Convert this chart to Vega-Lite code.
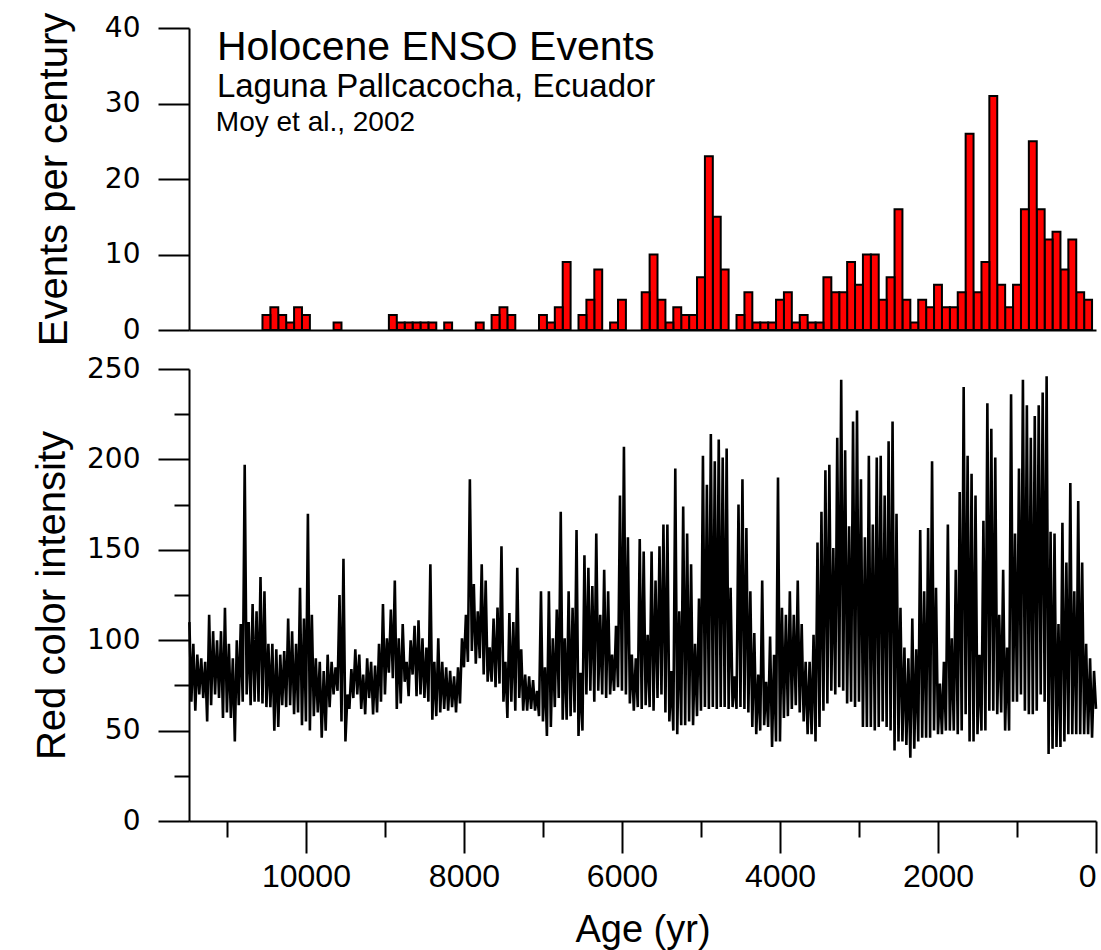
{
"$schema":"https://vega.github.io/schema/vega-lite/v6.json",
"background":"white",
"padding":{"left":32,"top":12,"right":5,"bottom":5},
"spacing":9,
"config":{"view":{"stroke":null},"axis":{"domainColor":"black","domainWidth":2,"tickColor":"black","tickWidth":2,"grid":false,"labelColor":"black","titleColor":"black","labelFont":"DejaVu Sans","titleFont":"Liberation Sans","titleFontWeight":"normal"}},
"datasets":{
"events":[
{"start":50,"end":150,"events":4},{"start":150,"end":250,"events":5},{"start":250,"end":350,"events":12},{"start":350,"end":450,"events":8},{"start":450,"end":550,"events":13},{"start":550,"end":650,"events":12},{"start":650,"end":750,"events":16},{"start":750,"end":850,"events":25},{"start":850,"end":950,"events":16},{"start":950,"end":1050,"events":6},{"start":1050,"end":1150,"events":3},{"start":1150,"end":1250,"events":6},{"start":1250,"end":1350,"events":31},{"start":1350,"end":1450,"events":9},{"start":1450,"end":1550,"events":5},{"start":1550,"end":1650,"events":26},{"start":1650,"end":1750,"events":5},{"start":1750,"end":1850,"events":3},{"start":1850,"end":1950,"events":3},{"start":1950,"end":2050,"events":6},{"start":2050,"end":2150,"events":3},{"start":2150,"end":2250,"events":4},{"start":2250,"end":2350,"events":1},{"start":2350,"end":2450,"events":4},{"start":2450,"end":2550,"events":16},{"start":2550,"end":2650,"events":7},{"start":2650,"end":2750,"events":4},{"start":2750,"end":2850,"events":10},{"start":2850,"end":2950,"events":10},{"start":2950,"end":3050,"events":6},{"start":3050,"end":3150,"events":9},{"start":3150,"end":3250,"events":5},{"start":3250,"end":3350,"events":5},{"start":3350,"end":3450,"events":7},{"start":3450,"end":3550,"events":1},{"start":3550,"end":3650,"events":1},{"start":3650,"end":3750,"events":2},{"start":3750,"end":3850,"events":1},{"start":3850,"end":3950,"events":5},{"start":3950,"end":4050,"events":4},{"start":4050,"end":4150,"events":1},{"start":4150,"end":4250,"events":1},{"start":4250,"end":4350,"events":1},{"start":4350,"end":4450,"events":5},{"start":4450,"end":4550,"events":2},{"start":4650,"end":4750,"events":8},{"start":4750,"end":4850,"events":15},{"start":4850,"end":4950,"events":23},{"start":4950,"end":5050,"events":7},{"start":5050,"end":5150,"events":2},{"start":5150,"end":5250,"events":2},{"start":5250,"end":5350,"events":3},{"start":5350,"end":5450,"events":1},{"start":5450,"end":5550,"events":4},{"start":5550,"end":5650,"events":10},{"start":5650,"end":5750,"events":5},{"start":5950,"end":6050,"events":4},{"start":6050,"end":6150,"events":1},{"start":6250,"end":6350,"events":8},{"start":6350,"end":6450,"events":4},{"start":6450,"end":6550,"events":2},{"start":6650,"end":6750,"events":9},{"start":6750,"end":6850,"events":3},{"start":6850,"end":6950,"events":1},{"start":6950,"end":7050,"events":2},{"start":7350,"end":7450,"events":2},{"start":7450,"end":7550,"events":3},{"start":7550,"end":7650,"events":2},{"start":7750,"end":7850,"events":1},{"start":8150,"end":8250,"events":1},{"start":8350,"end":8450,"events":1},{"start":8450,"end":8550,"events":1},{"start":8550,"end":8650,"events":1},{"start":8650,"end":8750,"events":1},{"start":8750,"end":8850,"events":1},{"start":8850,"end":8950,"events":2},{"start":9550,"end":9650,"events":1},{"start":9950,"end":10050,"events":2},{"start":10050,"end":10150,"events":3},{"start":10150,"end":10250,"events":1},{"start":10250,"end":10350,"events":2},{"start":10350,"end":10450,"events":3},{"start":10450,"end":10550,"events":2}
],
"intensity":[
{"age":11475,"red":110},{"age":11450,"red":66},{"age":11425,"red":98},{"age":11400,"red":61},{"age":11375,"red":92},
{"age":11350,"red":70},{"age":11325,"red":90},{"age":11300,"red":68},{"age":11275,"red":88},{"age":11250,"red":55},
{"age":11225,"red":114},{"age":11200,"red":64},{"age":11175,"red":105},{"age":11150,"red":70},{"age":11125,"red":100},
{"age":11100,"red":68},{"age":11075,"red":105},{"age":11050,"red":57},{"age":11025,"red":118},{"age":11000,"red":60},
{"age":10975,"red":98},{"age":10950,"red":57},{"age":10925,"red":90},{"age":10900,"red":44},{"age":10875,"red":100},
{"age":10850,"red":64},{"age":10825,"red":109},{"age":10800,"red":66},{"age":10775,"red":197},{"age":10750,"red":70},
{"age":10725,"red":110},{"age":10700,"red":64},{"age":10675,"red":120},{"age":10650,"red":66},{"age":10625,"red":116},
{"age":10600,"red":66},{"age":10575,"red":135},{"age":10550,"red":65},{"age":10525,"red":127},{"age":10500,"red":63},
{"age":10475,"red":98},{"age":10450,"red":63},{"age":10425,"red":98},{"age":10400,"red":50},{"age":10375,"red":95},
{"age":10350,"red":52},{"age":10325,"red":92},{"age":10300,"red":64},{"age":10275,"red":94},{"age":10250,"red":63},
{"age":10225,"red":112},{"age":10200,"red":64},{"age":10175,"red":105},{"age":10150,"red":59},{"age":10125,"red":98},
{"age":10100,"red":60},{"age":10075,"red":129},{"age":10050,"red":53},{"age":10025,"red":112},{"age":10000,"red":55},
{"age":9975,"red":170},{"age":9950,"red":50},{"age":9925,"red":114},{"age":9900,"red":58},{"age":9875,"red":90},
{"age":9850,"red":60},{"age":9825,"red":88},{"age":9800,"red":46},{"age":9775,"red":83},{"age":9750,"red":50},
{"age":9725,"red":92},{"age":9700,"red":63},{"age":9675,"red":88},{"age":9650,"red":70},{"age":9625,"red":85},
{"age":9600,"red":72},{"age":9575,"red":125},{"age":9550,"red":55},{"age":9525,"red":145},{"age":9500,"red":44},
{"age":9475,"red":70},{"age":9450,"red":62},{"age":9425,"red":84},{"age":9400,"red":68},{"age":9375,"red":95},
{"age":9350,"red":70},{"age":9325,"red":92},{"age":9300,"red":62},{"age":9275,"red":81},{"age":9250,"red":59},
{"age":9225,"red":90},{"age":9200,"red":68},{"age":9175,"red":88},{"age":9150,"red":59},{"age":9125,"red":86},
{"age":9100,"red":60},{"age":9075,"red":98},{"age":9050,"red":66},{"age":9025,"red":120},{"age":9000,"red":70},
{"age":8975,"red":101},{"age":8950,"red":82},{"age":8925,"red":117},{"age":8900,"red":79},{"age":8875,"red":133},
{"age":8850,"red":62},{"age":8825,"red":101},{"age":8800,"red":65},{"age":8775,"red":109},{"age":8750,"red":77},
{"age":8725,"red":88},{"age":8700,"red":69},{"age":8675,"red":100},{"age":8650,"red":81},{"age":8625,"red":108},
{"age":8600,"red":69},{"age":8575,"red":111},{"age":8550,"red":70},{"age":8525,"red":101},{"age":8500,"red":68},
{"age":8475,"red":96},{"age":8450,"red":66},{"age":8425,"red":142},{"age":8400,"red":56},{"age":8375,"red":88},
{"age":8350,"red":58},{"age":8325,"red":101},{"age":8300,"red":60},{"age":8275,"red":88},{"age":8250,"red":62},
{"age":8225,"red":85},{"age":8200,"red":61},{"age":8175,"red":83},{"age":8150,"red":63},{"age":8125,"red":80},
{"age":8100,"red":60},{"age":8075,"red":85},{"age":8050,"red":65},{"age":8025,"red":101},{"age":8000,"red":85},
{"age":7975,"red":114},{"age":7950,"red":88},{"age":7925,"red":189},{"age":7900,"red":94},{"age":7875,"red":131},
{"age":7850,"red":87},{"age":7825,"red":116},{"age":7800,"red":90},{"age":7775,"red":142},{"age":7750,"red":81},
{"age":7725,"red":133},{"age":7700,"red":77},{"age":7675,"red":96},{"age":7650,"red":77},{"age":7625,"red":112},
{"age":7600,"red":74},{"age":7575,"red":118},{"age":7550,"red":76},{"age":7525,"red":152},{"age":7500,"red":66},
{"age":7475,"red":88},{"age":7450,"red":57},{"age":7425,"red":115},{"age":7400,"red":66},{"age":7375,"red":110},
{"age":7350,"red":61},{"age":7325,"red":140},{"age":7300,"red":68},{"age":7275,"red":95},{"age":7250,"red":61},
{"age":7225,"red":81},{"age":7200,"red":61},{"age":7175,"red":80},{"age":7150,"red":62},{"age":7125,"red":78},
{"age":7100,"red":61},{"age":7075,"red":72},{"age":7050,"red":58},{"age":7025,"red":127},{"age":7000,"red":55},
{"age":6975,"red":85},{"age":6950,"red":47},{"age":6925,"red":127},{"age":6900,"red":52},{"age":6875,"red":101},
{"age":6850,"red":63},{"age":6825,"red":117},{"age":6800,"red":68},{"age":6775,"red":171},{"age":6750,"red":56},
{"age":6725,"red":101},{"age":6700,"red":56},{"age":6675,"red":127},{"age":6650,"red":58},{"age":6625,"red":118},
{"age":6600,"red":60},{"age":6575,"red":161},{"age":6550,"red":47},{"age":6525,"red":82},{"age":6500,"red":50},
{"age":6475,"red":147},{"age":6450,"red":70},{"age":6425,"red":140},{"age":6400,"red":72},{"age":6375,"red":130},
{"age":6350,"red":66},{"age":6325,"red":159},{"age":6300,"red":72},{"age":6275,"red":114},{"age":6250,"red":70},
{"age":6225,"red":139},{"age":6200,"red":68},{"age":6175,"red":127},{"age":6150,"red":70},{"age":6125,"red":92},
{"age":6100,"red":72},{"age":6075,"red":108},{"age":6050,"red":74},{"age":6025,"red":180},{"age":6000,"red":72},
{"age":5975,"red":207},{"age":5950,"red":70},{"age":5925,"red":157},{"age":5900,"red":65},{"age":5875,"red":92},
{"age":5850,"red":61},{"age":5825,"red":90},{"age":5800,"red":63},{"age":5775,"red":156},{"age":5750,"red":62},
{"age":5725,"red":149},{"age":5700,"red":64},{"age":5675,"red":103},{"age":5650,"red":63},{"age":5625,"red":149},
{"age":5600,"red":61},{"age":5575,"red":133},{"age":5550,"red":68},{"age":5525,"red":152},{"age":5500,"red":70},
{"age":5475,"red":164},{"age":5450,"red":60},{"age":5425,"red":164},{"age":5400,"red":55},{"age":5375,"red":83},
{"age":5350,"red":50},{"age":5325,"red":195},{"age":5300,"red":48},{"age":5275,"red":116},{"age":5250,"red":53},
{"age":5225,"red":174},{"age":5200,"red":53},{"age":5175,"red":159},{"age":5150,"red":55},{"age":5125,"red":142},
{"age":5100,"red":53},{"age":5075,"red":98},{"age":5050,"red":58},{"age":5025,"red":123},{"age":5000,"red":61},
{"age":4975,"red":202},{"age":4950,"red":63},{"age":4925,"red":186},{"age":4900,"red":62},{"age":4875,"red":214},
{"age":4850,"red":63},{"age":4825,"red":199},{"age":4800,"red":62},{"age":4775,"red":211},{"age":4750,"red":63},
{"age":4725,"red":201},{"age":4700,"red":63},{"age":4675,"red":206},{"age":4650,"red":62},{"age":4625,"red":129},
{"age":4600,"red":63},{"age":4575,"red":80},{"age":4550,"red":62},{"age":4525,"red":175},{"age":4500,"red":63},
{"age":4475,"red":189},{"age":4450,"red":62},{"age":4425,"red":162},{"age":4400,"red":60},{"age":4375,"red":127},
{"age":4350,"red":52},{"age":4325,"red":104},{"age":4300,"red":48},{"age":4275,"red":81},{"age":4250,"red":50},
{"age":4225,"red":133},{"age":4200,"red":53},{"age":4175,"red":77},{"age":4150,"red":52},{"age":4125,"red":102},
{"age":4100,"red":41},{"age":4075,"red":92},{"age":4050,"red":44},{"age":4025,"red":190},{"age":4000,"red":44},
{"age":3975,"red":118},{"age":3950,"red":57},{"age":3925,"red":114},{"age":3900,"red":58},{"age":3875,"red":127},
{"age":3850,"red":62},{"age":3825,"red":114},{"age":3800,"red":64},{"age":3775,"red":133},{"age":3750,"red":60},
{"age":3725,"red":109},{"age":3700,"red":55},{"age":3675,"red":88},{"age":3650,"red":48},{"age":3625,"red":88},
{"age":3600,"red":48},{"age":3575,"red":103},{"age":3550,"red":44},{"age":3525,"red":154},{"age":3500,"red":52},
{"age":3475,"red":171},{"age":3450,"red":61},{"age":3425,"red":194},{"age":3400,"red":65},{"age":3375,"red":197},
{"age":3350,"red":72},{"age":3325,"red":151},{"age":3300,"red":70},{"age":3275,"red":212},{"age":3250,"red":74},
{"age":3225,"red":244},{"age":3200,"red":72},{"age":3175,"red":205},{"age":3150,"red":65},{"age":3125,"red":163},
{"age":3100,"red":66},{"age":3075,"red":221},{"age":3050,"red":63},{"age":3025,"red":227},{"age":3000,"red":66},
{"age":2975,"red":189},{"age":2950,"red":52},{"age":2925,"red":157},{"age":2900,"red":52},{"age":2875,"red":202},
{"age":2850,"red":52},{"age":2825,"red":164},{"age":2800,"red":50},{"age":2775,"red":201},{"age":2750,"red":52},
{"age":2725,"red":202},{"age":2700,"red":55},{"age":2675,"red":180},{"age":2650,"red":52},{"age":2625,"red":210},
{"age":2600,"red":50},{"age":2575,"red":221},{"age":2550,"red":39},{"age":2525,"red":170},{"age":2500,"red":44},
{"age":2475,"red":118},{"age":2450,"red":44},{"age":2425,"red":96},{"age":2400,"red":42},{"age":2375,"red":90},
{"age":2350,"red":35},{"age":2325,"red":112},{"age":2300,"red":40},{"age":2275,"red":95},{"age":2250,"red":44},
{"age":2225,"red":161},{"age":2200,"red":46},{"age":2175,"red":127},{"age":2150,"red":46},{"age":2125,"red":162},
{"age":2100,"red":46},{"age":2075,"red":199},{"age":2050,"red":50},{"age":2025,"red":129},{"age":2000,"red":48},
{"age":1975,"red":76},{"age":1950,"red":48},{"age":1925,"red":88},{"age":1900,"red":50},{"age":1875,"red":164},
{"age":1850,"red":50},{"age":1825,"red":101},{"age":1800,"red":50},{"age":1775,"red":139},{"age":1750,"red":48},
{"age":1725,"red":182},{"age":1700,"red":50},{"age":1675,"red":240},{"age":1650,"red":59},{"age":1625,"red":202},
{"age":1600,"red":44},{"age":1575,"red":192},{"age":1550,"red":44},{"age":1525,"red":180},{"age":1500,"red":48},
{"age":1475,"red":92},{"age":1450,"red":50},{"age":1425,"red":166},{"age":1400,"red":50},{"age":1375,"red":231},
{"age":1350,"red":61},{"age":1325,"red":217},{"age":1300,"red":61},{"age":1275,"red":201},{"age":1250,"red":59},
{"age":1225,"red":114},{"age":1200,"red":60},{"age":1175,"red":139},{"age":1150,"red":50},{"age":1125,"red":96},
{"age":1100,"red":50},{"age":1075,"red":236},{"age":1050,"red":66},{"age":1025,"red":159},{"age":1000,"red":66},
{"age":975,"red":195},{"age":950,"red":70},{"age":925,"red":244},{"age":900,"red":61},{"age":875,"red":230},
{"age":850,"red":59},{"age":825,"red":212},{"age":800,"red":59},{"age":775,"red":224},{"age":750,"red":61},
{"age":725,"red":230},{"age":700,"red":70},{"age":675,"red":237},{"age":650,"red":66},{"age":625,"red":246},
{"age":600,"red":37},{"age":575,"red":160},{"age":550,"red":40},{"age":525,"red":159},{"age":500,"red":41},
{"age":475,"red":109},{"age":450,"red":41},{"age":425,"red":165},{"age":400,"red":44},{"age":375,"red":143},
{"age":350,"red":48},{"age":325,"red":187},{"age":300,"red":48},{"age":275,"red":127},{"age":250,"red":48},
{"age":225,"red":177},{"age":200,"red":48},{"age":175,"red":143},{"age":150,"red":48},{"age":125,"red":98},
{"age":100,"red":48},{"age":75,"red":90},{"age":50,"red":46},{"age":25,"red":83},{"age":0,"red":62}
]
},
"vconcat":[
{"width":907,"height":302,
"layer":[
{"data":{"name":"events"},
"mark":{"type":"bar","color":"#ff0000","stroke":"black","strokeWidth":2},
"encoding":{
"x":{"field":"start","type":"quantitative","scale":{"domain":[0,11480],"reverse":true,"nice":false,"zero":false},"axis":{"title":null,"labels":false,"ticks":false,"domain":true}},
"x2":{"field":"end"},
"y":{"field":"events","type":"quantitative","stack":null,"scale":{"domain":[0,40],"nice":false},"axis":{"title":"Events per century","values":[0,5,10,15,20,25,30,35,40],"labelExpr":"datum.value % 10 === 0 ? datum.label : ''","tickSize":{"condition":{"test":"datum.value % 10 === 0","value":31},"value":15},"labelPadding":18,"labelFontSize":28,"titleFontSize":40,"titlePadding":30}},
"y2":{"datum":0}
}},
{"data":{"values":[{"t":"Holocene ENSO Events"}]},
"mark":{"type":"text","align":"left","baseline":"alphabetic","font":"Liberation Sans","fontSize":41,"color":"black"},
"encoding":{"x":{"datum":11127,"type":"quantitative"},"y":{"datum":35.75,"type":"quantitative"},"text":{"field":"t"}}},
{"data":{"values":[{"t":"Laguna Pallcacocha, Ecuador"}]},
"mark":{"type":"text","align":"left","baseline":"alphabetic","font":"Liberation Sans","fontSize":33,"color":"black"},
"encoding":{"x":{"datum":11127,"type":"quantitative"},"y":{"datum":30.8,"type":"quantitative"},"text":{"field":"t"}}},
{"data":{"values":[{"t":"Moy et al., 2002"}]},
"mark":{"type":"text","align":"left","baseline":"alphabetic","font":"Liberation Sans","fontSize":28,"color":"black"},
"encoding":{"x":{"datum":11140,"type":"quantitative"},"y":{"datum":26.3,"type":"quantitative"},"text":{"field":"t"}}}
]},
{"width":907,"height":452,
"data":{"name":"intensity"},
"mark":{"type":"line","color":"black","strokeWidth":2.6,"strokeJoin":"bevel"},
"encoding":{
"x":{"field":"age","type":"quantitative","scale":{"domain":[0,11480],"reverse":true,"nice":false,"zero":false},"axis":{"title":"Age (yr)","values":[0,1000,2000,3000,4000,5000,6000,7000,8000,9000,10000,11000],"format":"d","labelExpr":"datum.value % 2000 === 0 ? datum.label : ''","tickSize":{"condition":{"test":"datum.value % 2000 === 0","value":32},"value":16},"labelPadding":8,"labelFont":"Liberation Sans","labelFontSize":32,"titleFontSize":38,"titlePadding":19}},
"y":{"field":"red","type":"quantitative","scale":{"domain":[0,250],"nice":false},"axis":{"title":"Red color intensity","values":[0,25,50,75,100,125,150,175,200,225,250],"labelExpr":"datum.value % 50 === 0 ? datum.label : ''","tickSize":{"condition":{"test":"datum.value % 50 === 0","value":31},"value":15},"labelPadding":18,"labelFontSize":28,"titleFontSize":40,"titlePadding":14}}
}}
]
}
